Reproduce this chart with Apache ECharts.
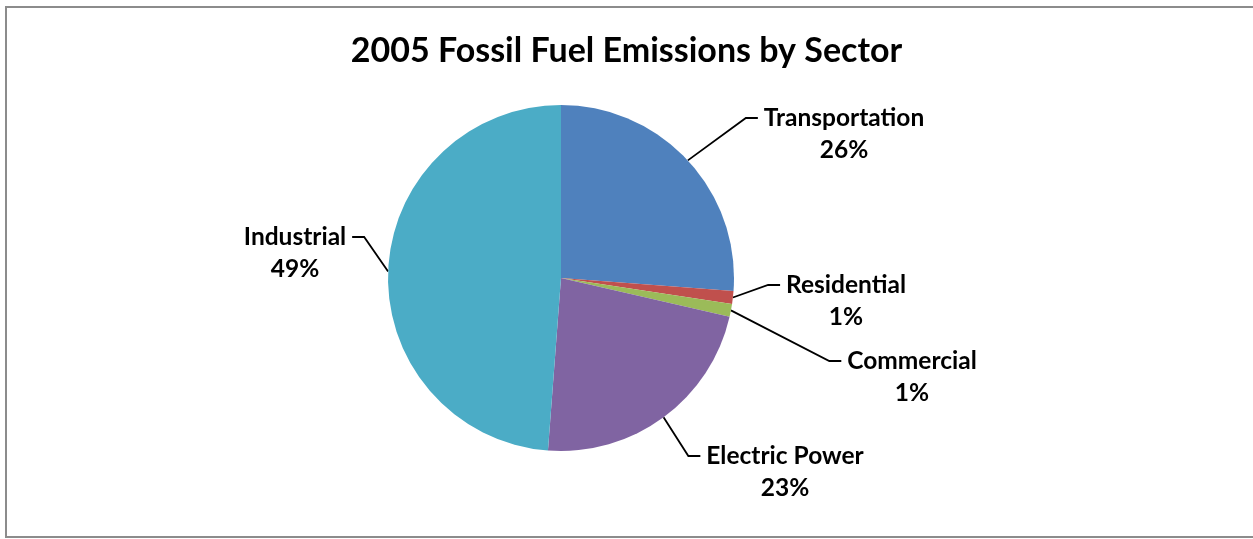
<!DOCTYPE html>
<html>
<head>
<meta charset="utf-8">
<script src="https://cdn.jsdelivr.net/npm/echarts@6/dist/echarts.min.js"></script>
<style>
html,body{margin:0;padding:0;background:#fff;}
#c{width:1253px;height:539px;}
</style>
</head>
<body>
<div id="c"></div>
<script>
const titleText = '2005 Fossil Fuel Emissions by Sector';
const categories = ['Transportation', 'Residential', 'Commercial', 'Electric Power', 'Industrial'];
const values = [26.2, 1.2, 1.2, 22.6, 48.8];
const colors = ['#4F81BD', '#C0504D', '#9BBB59', '#8064A2', '#4BACC6'];

// label positions (centre of the category-name line) in pixels
const labelPos = {
  'Transportation': [844, 118],
  'Residential': [846, 285],
  'Commercial': [912, 361],
  'Electric Power': [785, 456],
  'Industrial': [295, 237]
};

const chart = echarts.init(document.getElementById('c'), null, {renderer: 'canvas'});
const FONT = 'Lato';

chart.setOption({
  animation: false,
  backgroundColor: '#fff',
  title: {
    text: titleText,
    left: 'center',
    top: 29,
    textStyle: {fontFamily: FONT, fontWeight: 'bold', fontSize: 34, color: '#000'}
  },
  graphic: [{
    type: 'rect',
    shape: {x: 6, y: 7, width: 1260, height: 530},
    style: {fill: 'none', stroke: '#8c8c8c', lineWidth: 2},
    silent: true
  }],
  series: [{
    type: 'pie',
    center: [561, 278],
    radius: 173,
    startAngle: 90,
    clockwise: true,
    percentPrecision: 0,
    emphasis: {disabled: true},
    data: categories.map((c, i) => ({name: c, value: values[i], itemStyle: {color: colors[i]}})),
    label: {
      show: true,
      position: 'outside',
      formatter: ' \n {b} \n{d}%',
      fontFamily: FONT,
      fontWeight: 'bold',
      fontSize: 24.5,
      lineHeight: 32,
      color: '#000',
      align: 'center'
    },
    labelLine: {
      show: true,
      length: 20,
      length2: 12,
      smooth: false,
      lineStyle: {color: '#000', width: 1.8}
    },
    labelLayout: function (params) {
      const name = categories[params.dataIndex];
      const p = labelPos[name];
      return {x: p[0], y: p[1], align: 'center', verticalAlign: 'middle'};
    }
  }]
});
</script>
</body>
</html>
